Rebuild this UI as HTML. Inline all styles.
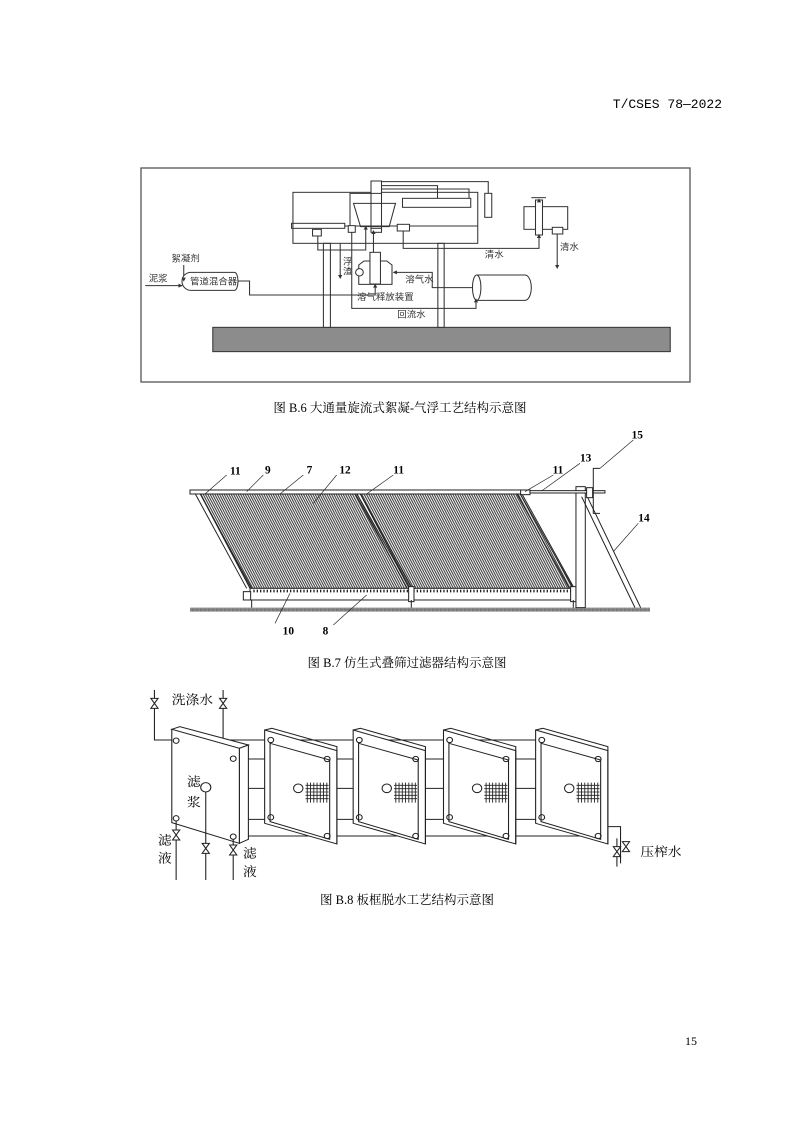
<!DOCTYPE html>
<html><head><meta charset="utf-8">
<style>
html,body{margin:0;padding:0;background:#fff;}
svg{display:block;}
.t{font-family:"Liberation Sans","Noto Sans CJK SC",sans-serif;}
.s{font-family:"Liberation Serif","Noto Serif CJK SC",serif;}
</style></head>
<body>
<svg width="794" height="1123" viewBox="0 0 794 1123" xmlns="http://www.w3.org/2000/svg">
<defs>
<pattern id="tubes" patternUnits="userSpaceOnUse" width="7" height="10" patternTransform="skewX(27.8)">
<rect width="7" height="10" fill="#fff"/>
<rect x="0" y="0" width="3.8" height="10" fill="#444"/>
</pattern>
<pattern id="grd" patternUnits="userSpaceOnUse" width="4" height="4">
<rect width="4" height="4" fill="#999"/><rect width="2" height="2" fill="#444"/>
</pattern>
</defs>

<text x="722" y="108" font-family="Liberation Mono, monospace" font-size="13" text-anchor="end" fill="#000">T/CSES 78—2022</text>

<!-- Figure B.6 -->
<rect x="141" y="168" width="549" height="214" fill="none" stroke="#555" stroke-width="1.3"/>
<g transform="translate(140,165) scale(0.35,0.3333)" fill="none" stroke="#333" stroke-width="3">
<rect x="208" y="487" width="1307" height="73" fill="#8c8c8c" stroke="#333"/>
<rect x="524" y="235" width="20" height="252" fill="#fff"/>
<rect x="851" y="235" width="18" height="252" fill="#fff"/>
<rect x="437" y="82" width="528" height="153"/>
<rect x="433" y="175" width="152" height="15"/>
<rect x="660" y="48" width="30" height="148" fill="#fff"/>
<path d="M690 50 H995 V85 M690 62 H850 V100 M690 72 H940 V100 M690 85 H600 V182"/>
<rect x="750" y="100" width="195" height="27"/>
<rect x="985" y="85" width="20" height="72"/>
<path d="M610 115 H730 L712 185 H630 Z"/>
<line x1="585" y1="183" x2="965" y2="183"/>
<rect x="493" y="193" width="25" height="20" fill="#fff"/>
<rect x="595" y="182" width="20" height="20" fill="#fff"/>
<rect x="735" y="178" width="35" height="20" fill="#fff"/>
<rect x="660" y="190" width="30" height="12" fill="#fff"/>
<rect x="1097" y="125" width="125" height="68"/>
<rect x="1130" y="105" width="20" height="105" fill="#fff"/>
<line x1="1118" y1="98" x2="1160" y2="98"/>
<rect x="1178" y="187" width="30" height="20" fill="#fff"/>
<path d="M752 198 V250 H1140 V212"/>
<path d="M1192 207 V305"/>
<path d="M667 262 V200"/>
<path d="M605 202 V430 H960 V405"/>
<path d="M508 213 V255 H645 V185"/>
<path d="M572 235 V335"/>
<path d="M950 368 H835 V322 H728"/>
<path d="M278 348 H313 V390 H672 V360"/>
<path d="M15 362 H120"/>
<path d="M125 300 V345"/>
<path d="M625 358 V300 L640 288 H705 L720 300 V358 Z"/>
<rect x="657" y="262" width="30" height="95" fill="#fff"/>
<circle cx="627" cy="322" r="11" fill="#fff"/>
<path d="M962 330 H1100 A18 38 0 0 1 1100 406 H962"/>
<ellipse cx="962" cy="368" rx="12" ry="38" fill="#fff"/>
<path d="M145 322 H270 A10 27 0 0 1 270 376 H145 A25 27 0 0 1 145 322 Z" fill="#fff"/>
<g fill="#333" stroke="none">
<path d="M667 195 l-6 12 h12 z"/><path d="M1140 207 l-6 12 h12 z"/><path d="M1192 312 l-6 -12 h12 z"/>
<path d="M572 342 l-6 -12 h12 z"/><path d="M722 322 l12 -6 v12 z"/><path d="M672 356 l-6 12 h12 z"/>
<path d="M122 362 l-12 -6 v12 z"/><path d="M125 350 l-6 -12 h12 z"/><path d="M960 400 l-6 12 h12 z"/>
<path d="M645 182 l-6 12 h12 z"/><path d="M1140 100 l-6 12 h12 z"/>
</g>
<g class="t" font-size="27" fill="#333" stroke="none">
<text x="90" y="290">絮凝剂</text>
<text x="25" y="350">泥浆</text>
<text x="143" y="358">管道混合器</text>
<text x="985" y="278">清水</text>
<text x="1200" y="255">清水</text>
<text x="758" y="352">溶气水</text>
<text x="620" y="405">溶气释放装置</text>
<text x="735" y="458">回流水</text>
<text x="580" y="298">浮</text>
<text x="580" y="328">渣</text>
</g>
</g>
<text x="400" y="412" class="s" font-size="12.5" text-anchor="middle" fill="#000">图 B.6 大通量旋流式絮凝-气浮工艺结构示意图</text>

<!-- Figure B.7 -->
<g transform="translate(180,425) scale(0.3333)" stroke="#222" stroke-width="3" fill="none">
<rect x="30" y="548" width="1380" height="12" fill="url(#grd)" stroke="none"/>
<path d="M60 205 H530 L690 490 H210 Z" fill="url(#tubes)"/>
<path d="M540 205 H1020 L1180 490 H690 Z" fill="url(#tubes)"/>
<path d="M45 205 L200 490 M60 205 L215 490 M525 205 L682 490 M540 205 L697 490 M1010 205 L1168 490 M1025 205 L1183 490"/>
<rect x="30" y="195" width="1000" height="12" fill="#fff"/>
<rect x="210" y="490" width="975" height="35" fill="#fff"/>
<path d="M220 498 H1175" stroke-dasharray="4 6" stroke-width="8"/>
<rect x="190" y="500" width="22" height="25" fill="#fff"/>
<rect x="686" y="485" width="16" height="45" fill="#fff"/>
<rect x="1172" y="485" width="16" height="45" fill="#fff"/>
<path d="M215 525 V548 M694 525 V548 M1180 525 V548"/>
<rect x="1188" y="185" width="28" height="363" fill="#fff"/>
<path d="M1205 215 L1365 548 M1222 215 L1382 548"/>
<rect x="1030" y="197" width="245" height="7" fill="#fff"/>
<rect x="1022" y="195" width="28" height="14" fill="#fff"/>
<path d="M1260 130 H1240 V265 H1260"/>
<rect x="1220" y="188" width="18" height="30" fill="#fff"/>
<g stroke-width="2">
<path d="M75 207 L140 150 M200 200 L250 150 M300 207 L370 150 M400 235 L470 150 M560 207 L640 150 M1035 200 L1120 150 M1085 198 L1200 115 M1260 130 L1360 45 M1300 380 L1375 295 M330 505 L285 595 M560 510 L460 600"/>
</g>
<g class="s" font-size="34" font-weight="bold" fill="#000" stroke="none">
<text x="150" y="148">11</text><text x="255" y="145">9</text><text x="380" y="145">7</text>
<text x="478" y="145">12</text><text x="640" y="145">11</text><text x="1118" y="145">11</text>
<text x="1200" y="110">13</text><text x="1355" y="40">15</text><text x="1375" y="290">14</text>
<text x="308" y="628">10</text><text x="428" y="628">8</text>
</g>
</g>
<text x="407" y="667" class="s" font-size="12.5" text-anchor="middle" fill="#000">图 B.7 仿生式叠筛过滤器结构示意图</text>

<!-- Figure B.8 -->
<g transform="translate(140,680) scale(0.3613,0.3333)" stroke="#222" stroke-width="3" fill="none">
<path d="M40 30 V180 H1110 M230 30 V237 H1270 M300 325 H1190 M300 418 H1110 M300 468 H1270"/>
<path d="M88 148 L275 205 L300 195 L110 140 Z" fill="#fff"/>
<path d="M275 205 L300 195 V478 L275 490 Z" fill="#fff"/>
<path d="M88 148 L275 205 V490 L88 428 Z" fill="#fff"/>
<circle cx="100" cy="182" r="8"/><circle cx="258" cy="236" r="8"/>
<circle cx="100" cy="415" r="8"/><circle cx="258" cy="470" r="8"/>
<circle cx="182" cy="322" r="14"/>
<path d="M182 336 V600 M100 423 V600 M258 478 V600"/>
<g id="fr">
<path d="M345 150 L545 212 V492 L345 430 Z" fill="#fff"/>
<path d="M345 150 L365 145 L545 200 V212 M545 200 V492"/>
<path d="M360 190 L525 240 V478 L360 425 Z"/>
<circle cx="362" cy="180" r="8"/><circle cx="518" cy="237" r="8"/>
<circle cx="362" cy="412" r="8"/><circle cx="518" cy="468" r="8"/>
<circle cx="438" cy="325" r="13"/>
<path d="M458 316 H522 M458 326 H522 M458 336 H522 M458 346 H522 M458 356 H522 M463 308 V368 M472 308 V368 M481 308 V368 M490 308 V368 M499 308 V368 M508 308 V368 M517 308 V368" stroke-width="2.5"/>
</g>
<use href="#fr" x="245"/>
<use href="#fr" x="495"/>
<use href="#fr" x="750"/>
<path d="M1295 440 H1330 V550 M1320 475 V560"/>
<g fill="#fff">
<path d="M30 55 H50 L30 85 H50 Z"/><path d="M220 55 H240 L220 85 H240 Z"/>
<path d="M90 450 H110 L90 480 H110 Z"/><path d="M172 490 H192 L172 520 H192 Z"/>
<path d="M248 495 H268 L248 525 H268 Z"/><path d="M1310 500 H1330 L1310 530 H1330 Z"/>
<path d="M1335 485 H1355 L1335 515 H1355 Z"/>
</g>
<g class="s" font-size="38" fill="#000" stroke="none">
<text x="88" y="72">洗涤水</text>
<text x="130" y="318">滤</text><text x="130" y="380">浆</text>
<text x="50" y="493">滤</text><text x="50" y="547">液</text>
<text x="285" y="533">滤</text><text x="285" y="588">液</text>
<text x="1385" y="528">压榨水</text>
</g>
</g>
<text x="407" y="904" class="s" font-size="12.5" text-anchor="middle" fill="#000">图 B.8  板框脱水工艺结构示意图</text>

<text x="697" y="1045" class="s" font-size="12" text-anchor="end" fill="#000">15</text>
</svg>
</body></html>
